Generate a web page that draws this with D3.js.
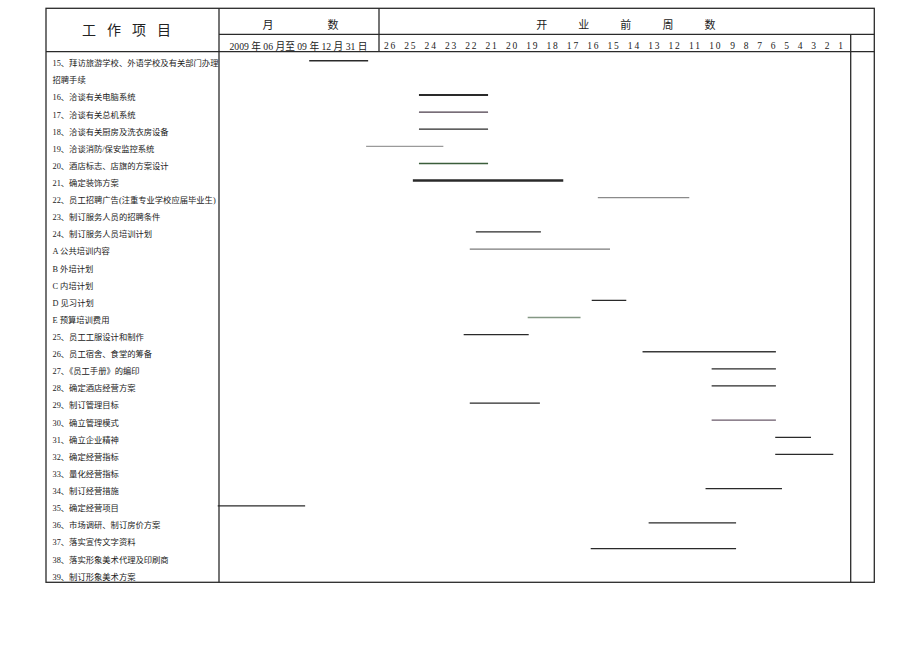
<!DOCTYPE html>
<html>
<head>
<meta charset="utf-8">
<script src="https://cdn.jsdelivr.net/npm/d3@7"></script>
<style>
  body { margin: 0; background: #fff; }
  text { font-family: "Liberation Serif", "Noto Sans CJK SC", serif; fill: #222; }
</style>
</head>
<body>
<div id="chart"></div>
<script>
// row labels (item 15 wraps onto a second line)
var rowLabels = [
    "15、拜访旅游学校、外语学校及有关部门办理",
    "招聘手续",
    "16、洽谈有关电脑系统",
    "17、洽谈有关总机系统",
    "18、洽谈有关厨房及洗衣房设备",
    "19、洽谈消防/保安监控系统",
    "20、酒店标志、店旗的方案设计",
    "21、确定装饰方案",
    "22、员工招聘广告(注重专业学校应届毕业生)",
    "23、制订服务人员的招聘条件",
    "24、制订服务人员培训计划",
    "A 公共培训内容",
    "B 外培计划",
    "C 内培计划",
    "D 见习计划",
    "E 预算培训费用",
    "25、员工工服设计和制作",
    "26、员工宿舍、食堂的筹备",
    "27、《员工手册》的编印",
    "28、确定酒店经营方案",
    "29、制订管理目标",
    "30、确立管理模式",
    "31、确立企业精神",
    "32、确定经营指标",
    "33、量化经营指标",
    "34、制订经营措施",
    "35、确定经营项目",
    "36、市场调研、制订房价方案",
    "37、落实宣传文字资料",
    "38、落实形象美术代理及印刷商",
    "39、制订形象美术方案"
];

// weeks before opening shown in the header
var weekLabels = [26, 25, 24, 23, 22, 21, 20, 19, 18, 17, 16, 15, 14, 13, 12, 11, 10, 9, 8, 7, 6, 5, 4, 3, 2, 1];

// bars: task key, start and end in weeks before opening (values > 26 fall in the month column)
var barTask  = ["15", "16", "17", "18", "19", "20", "21", "22", "24", "A", "D", "E", "25", "26", "27", "28", "29", "30", "31", "32", "34", "35", "36", "37"];
var barStart = [30.0, 24.6, 24.6, 24.6, 27.2, 24.6, 24.9, 15.8, 21.8, 22.1, 16.1, 19.25, 22.4, 13.6, 10.2, 10.2, 22.1, 10.2, 5.85, 5.85, 10.5, 34.5, 13.3, 16.15];
var barEnd   = [27.1, 21.2, 21.2, 21.2, 23.4, 21.2, 17.5, 11.3, 18.6, 15.2, 14.4, 16.65, 19.2, 5.8, 5.8, 5.8, 18.65, 5.8, 3.2, 1.55, 5.35, 30.2, 8.75, 8.75];

// styling only
var barStyle = {
    "16": { w: 2.2 },
    "21": { w: 2.4 },
    "17": { c: "#4b3d4b" },
    "19": { c: "#9a9a9a" },
    "20": { c: "#3b5e3b", w: 1.6 },
    "22": { c: "#8a8a8a" },
    "A":  { c: "#7a7a7a" },
    "E":  { c: "#849884" },
    "26": { c: "#3a3a3a" },
    "30": { c: "#6a5a6a" }
};
var barNudge = { "37": 0.5 };

var W = 920, H = 651;
var box = { left: 46, right: 874.3, top: 8.3, row1: 34.3, row2: 51.7, bottom: 582.3 };
var colName = 219, colMonth = 379, colEnd = 850.7;

var svg = d3.select("#chart").append("svg")
    .attr("width", W)
    .attr("height", H);

// header numbers are typed with uneven spacing, so the week scale is piecewise
var x = d3.scaleLinear()
    .domain([26, 10, 9, 1])
    .range([390.5, 715.7, 732.7, 840.7]);

var y = d3.scaleBand()
    .domain(d3.range(rowLabels.length))
    .range([box.row2, box.bottom]);

function rowKey(label) {
    var m = label.match(/^(\d+|[A-E])[、 ]/);
    return m ? m[1] : null;
}
var rowOf = {};
rowLabels.forEach(function(l, i) {
    var k = rowKey(l);
    if (k) rowOf[k] = i;
});

// table lines
var grid = svg.append("g")
    .attr("stroke", "#2a2a2a")
    .attr("stroke-width", 1.3)
    .attr("fill", "none");

grid.append("rect")
    .attr("x", box.left).attr("y", box.top)
    .attr("width", box.right - box.left)
    .attr("height", box.bottom - box.top);

var lines = [
    [colName, box.top, colName, box.bottom],
    [colMonth, box.top, colMonth, box.row2],
    [colEnd, box.row1, colEnd, box.bottom],
    [colName, box.row1, box.right, box.row1],
    [box.left, box.row2, box.right, box.row2]
];
grid.selectAll("line").data(lines).enter().append("line")
    .attr("x1", function(d) { return d[0]; })
    .attr("y1", function(d) { return d[1]; })
    .attr("x2", function(d) { return d[2]; })
    .attr("y2", function(d) { return d[3]; });

// spread single characters evenly between two points
function spread(str, x0, x1, yy, size) {
    var chars = str.split("");
    var step = chars.length > 1 ? (x1 - x0) / (chars.length - 1) : 0;
    svg.append("g").selectAll("text").data(chars).enter().append("text")
        .attr("x", function(d, i) { return x0 + i * step; })
        .attr("y", yy)
        .attr("text-anchor", "middle")
        .style("font-size", size + "px")
        .text(function(d) { return d; });
}

spread("工作项目", 89, 164, 35, 14);
spread("月数", 268, 333, 28.5, 11);
spread("开业前周数", 541.7, 710, 28.5, 11);

svg.append("text")
    .attr("x", 298.5)
    .attr("y", 49.5)
    .attr("text-anchor", "middle")
    .style("font-size", "9.7px")
    .text("2009 年 06 月至 09 年 12 月 31 日");

svg.append("g").selectAll("text").data(weekLabels).enter().append("text")
    .attr("x", function(d) { return x(d); })
    .attr("y", 49)
    .attr("text-anchor", "middle")
    .style("font-size", "9.5px")
    .style("letter-spacing", function(d) { return d > 9 ? "1.8px" : "0px"; })
    .text(function(d) { return d; });

// task labels
svg.append("g").selectAll("text").data(rowLabels).enter().append("text")
    .attr("x", 52.5)
    .attr("y", function(d, i) { return y(i) + y.bandwidth() / 2 + 5.9; })
    .style("font-size", "8.3px")
    .text(function(d) { return d; });

// bars
var bars = barTask.map(function(t, i) {
    return { task: t, start: barStart[i], end: barEnd[i] };
});

svg.append("g").selectAll("line").data(bars).enter().append("line")
    .attr("x1", function(d) { return x(d.start); })
    .attr("x2", function(d) { return x(d.end); })
    .attr("y1", function(d) {
        return y(rowOf[d.task]) + y.bandwidth() / 2 + 0.5 + (barNudge[d.task] || 0) * y.bandwidth();
    })
    .attr("y2", function(d) {
        return y(rowOf[d.task]) + y.bandwidth() / 2 + 0.5 + (barNudge[d.task] || 0) * y.bandwidth();
    })
    .attr("stroke", function(d) { return (barStyle[d.task] && barStyle[d.task].c) || "#2a2a2a"; })
    .attr("stroke-width", function(d) { return (barStyle[d.task] && barStyle[d.task].w) || 1.3; });
</script>
</body>
</html>
